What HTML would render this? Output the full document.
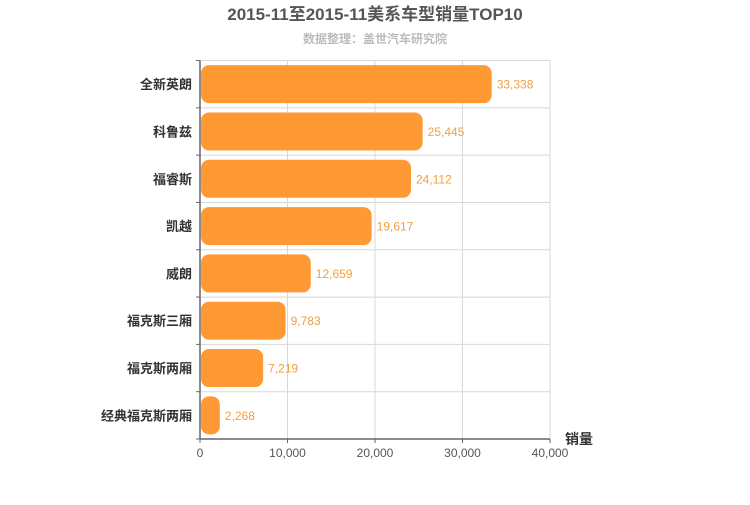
<!DOCTYPE html>
<html><head><meta charset="utf-8"><style>
body{margin:0;background:#fff;width:750px;height:500px;overflow:hidden;font-family:"Liberation Sans","Noto Sans CJK SC",sans-serif}
</style></head><body>
<svg id="chart" width="750" height="500" xmlns="http://www.w3.org/2000/svg" font-family="Liberation Sans, Noto Sans CJK SC, sans-serif">
<text x="375" y="20" text-anchor="middle" font-size="17" font-weight="bold" fill="#555">2015-11至2015-11美系车型销量TOP10</text>
<text x="375" y="43" text-anchor="middle" font-size="12" font-weight="bold" fill="#bbb">数据整理：盖世汽车研究院</text>
<g id="grid"></g><g id="bars"></g><g id="axes"></g>
<text x="565" y="444" font-size="14" font-weight="bold" fill="#333">销量</text>
</svg>
<script>
const categories=["全新英朗","科鲁兹","福睿斯","凯越","威朗","福克斯三厢","福克斯两厢","经典福克斯两厢"];
const values=[33338,25445,24112,19617,12659,9783,7219,2268];
const xTicks=[0,10000,20000,30000,40000];
const NS="http://www.w3.org/2000/svg";
const L=200,R=550,T=60.5,B=439,xMax=40000;
const x=v=>L+(v/xMax)*(R-L);
const band=(B-T)/categories.length;
const y=i=>T+i*band;
function mk(parent,tag,attrs){const e=document.createElementNS(NS,tag);for(const k in attrs)e.setAttribute(k,attrs[k]);document.getElementById(parent).appendChild(e);return e;}
xTicks.forEach((t,i)=>{
 if(i>0){const g=mk("grid","line",{x1:x(t),x2:x(t),y1:T,y2:B,stroke:"#d8d8d8","stroke-width":1});
 
 }
 const tl=mk("axes","text",{x:x(t),y:B+18,"text-anchor":"middle","font-size":12,fill:"#555"});
 tl.textContent=t.toLocaleString("en-US");
 
 
 const tk=mk("axes","line",{x1:x(t),x2:x(t),y1:B,y2:B+4,stroke:"#666"});
 
 
});
for(let i=0;i<=categories.length;i++){
 if(i<categories.length){const h=mk("grid","line",{x1:L,x2:R,y1:y(i),y2:y(i),stroke:"#d8d8d8"});
 
 }
 const tk=mk("axes","line",{x1:L-4,x2:L,y1:y(i),y2:y(i),stroke:"#666"});
 
 
}
categories.forEach((c,i)=>{
 const yc=y(i)+band/2;
 const r=mk("bars","rect",{x:L+1,y:yc-19,width:Math.max(x(values[i])-L-1,0),height:38,rx:8,ry:8,fill:"#ff9933"});
 
 
 const v=mk("bars","text",{x:x(values[i])+5,y:yc+4.5,"font-size":12,fill:"#f0a040"});
 v.textContent=values[i].toLocaleString("en-US");
 
 
 const cl=mk("axes","text",{x:L-8,y:yc+5,"text-anchor":"end","font-size":13,"font-weight":"bold",fill:"#333"});
 cl.textContent=c;
 
 
});
const ya=mk("axes","line",{x1:L,x2:L,y1:T,y2:B,stroke:"#666","stroke-width":1.5});


const xa=mk("axes","line",{x1:L,x2:R,y1:B,y2:B,stroke:"#666","stroke-width":1.5});


</script>
</body></html>
